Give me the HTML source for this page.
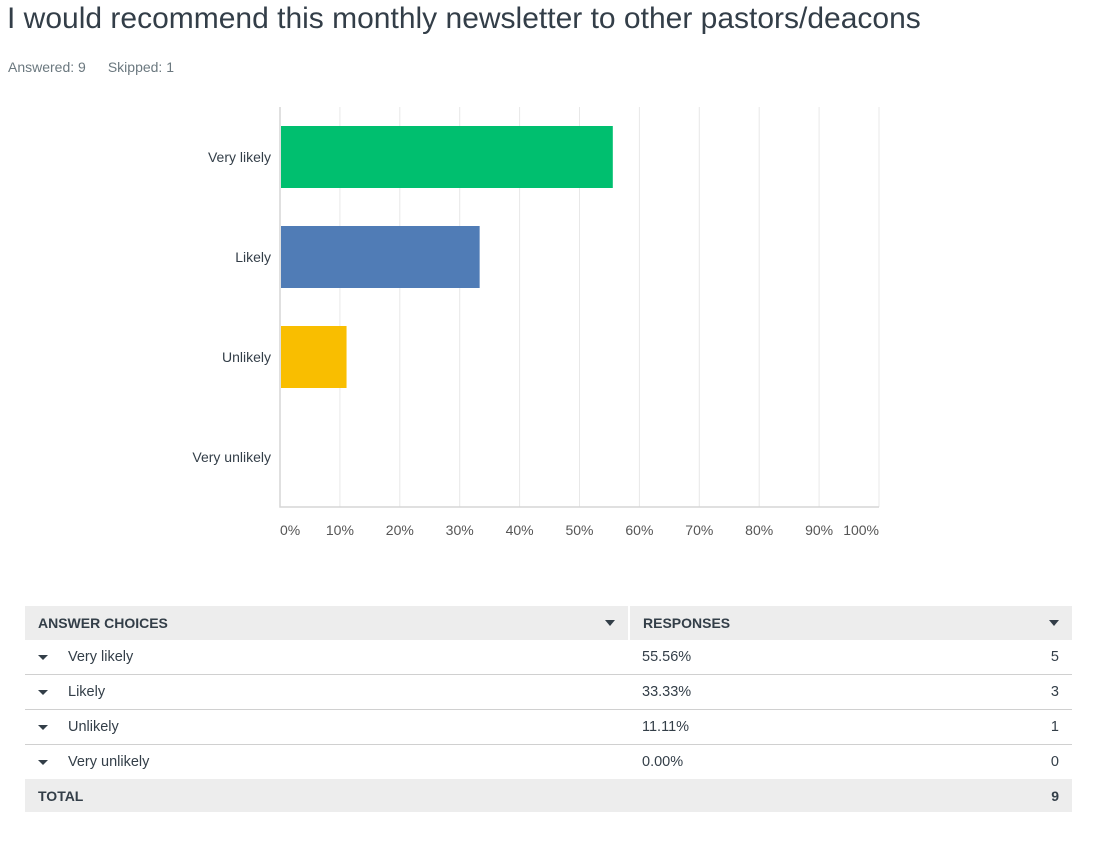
<!DOCTYPE html>
<html><head><meta charset="utf-8">
<style>
body{margin:0;width:1103px;height:855px;background:#fff;font-family:"Liberation Sans",sans-serif;color:#333e48;position:relative;overflow:hidden}
.title{position:absolute;left:7px;top:2px;font-size:30px;color:#333e48;white-space:nowrap}
.meta{position:absolute;left:8px;top:59px;font-size:14px;color:#6b787f}
.meta span{margin-right:22px}
table{position:absolute;left:25px;top:606px;width:1047px;border-collapse:collapse;font-size:14.5px}
td{height:34px;padding:0 13px;color:#333e48}
tr.hd td{background:#ededed;font-weight:bold;font-size:14px;height:34px}
tr.row td{border-bottom:1px solid #d0d0d0}
tr.tot td{background:#ededed;font-weight:bold;font-size:14px;height:33px}
.caret{display:inline-block;width:0;height:0;border-left:5px solid transparent;border-right:5px solid transparent;border-top:5px solid #333e48;margin-right:20px;vertical-align:middle}
.r{text-align:right}
</style></head><body>
<div class="title">I would recommend this monthly newsletter to other pastors/deacons</div>
<div class="meta"><span>Answered: 9</span><span>Skipped: 1</span></div>
<svg id="chart" width="1103" height="560" style="position:absolute;left:0;top:0" font-family="Liberation Sans, sans-serif"></svg>
<table>
<tr class="hd"><td style="width:577px;border-right:2px solid #fff">ANSWER CHOICES<span style="float:right;border-left:5px solid transparent;border-right:5px solid transparent;border-top:6px solid #333e48;margin-top:5px"></span></td><td colspan="2">RESPONSES<span style="float:right;border-left:5px solid transparent;border-right:5px solid transparent;border-top:6px solid #333e48;margin-top:5px"></span></td></tr>
<tr class="row"><td><span class="caret"></span>Very likely</td><td>55.56%</td><td class="r">5</td></tr>
<tr class="row"><td><span class="caret"></span>Likely</td><td>33.33%</td><td class="r">3</td></tr>
<tr class="row"><td><span class="caret"></span>Unlikely</td><td>11.11%</td><td class="r">1</td></tr>
<tr><td><span class="caret"></span>Very unlikely</td><td>0.00%</td><td class="r">0</td></tr>
<tr class="tot"><td>TOTAL</td><td></td><td class="r">9</td></tr>
</table>
<script>
const categories=["Very likely","Likely","Unlikely","Very unlikely"];
const values=[55.56,33.33,11.11,0];
const colors=["#00bf6f","#507cb6","#f9be00","#6bc8cd"];
const tickValues=[0,10,20,30,40,50,60,70,80,90,100];
const tickLabels=["0%","10%","20%","30%","40%","50%","60%","70%","80%","90%","100%"];
const svg=document.getElementById('chart');
const NS='http://www.w3.org/2000/svg';
const X0=280,X1=879,Y0=107,Y1=507;
const x=v=>X0+(X1-X0)*v/100;
const band=(Y1-Y0)/categories.length;
const yc=i=>Y0+band*(i+0.5);
function mk(t,a){const e=document.createElementNS(NS,t);for(const k in a)e.setAttribute(k,a[k]);svg.appendChild(e);return e;}
tickValues.forEach((v,i)=>{
 const g=mk('line',{x1:x(v),x2:x(v),y1:Y0,y2:Y1,stroke:'#e8e8e8','stroke-width':1});
 
 
 const anchor=i===0?'start':(i===tickValues.length-1?'end':'middle');
 const t=mk('text',{x:x(v),y:535,'font-size':14,fill:'#555','text-anchor':anchor});
 t.textContent=tickLabels[i];
 
 
});
const ax=mk('path',{d:`M${X0} ${Y0}V${Y1}H${X1}`,stroke:'#d5d5d5',fill:'none','stroke-width':1.5});


categories.forEach((c,i)=>{
 const b=mk('rect',{x:X0+1,y:yc(i)-31,width:Math.max(0,x(values[i])-X0-1),height:62,fill:colors[i]});
 
 
 const t=mk('text',{x:271,y:yc(i)+5,'font-size':14,fill:'#333e48','text-anchor':'end'});
 t.textContent=c;
 
 
});
</script>
</body></html>
